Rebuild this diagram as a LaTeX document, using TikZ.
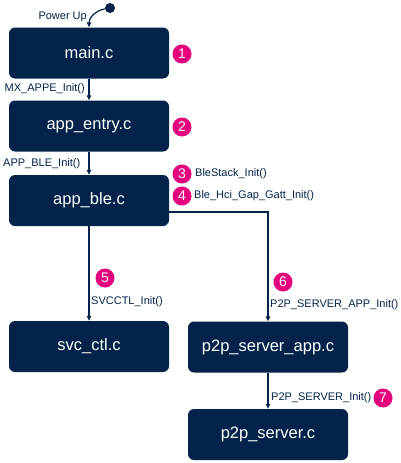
\documentclass[tikz,border=0pt]{standalone}
\usepackage{fontspec}
\setmainfont{Liberation Sans}
\usetikzlibrary{arrows.meta}
\definecolor{stnavy}{HTML}{03234B}
\definecolor{stpink}{HTML}{E6007E}
\tikzset{
  filebox/.style={fill=stnavy, draw=none, rounded corners=6pt, minimum width=160pt, minimum height=51pt, inner sep=0pt, text=white, font=\fontsize{16.5}{18}\selectfont},
  numdot/.style={circle, fill=stpink, draw=none, minimum size=19pt, inner sep=0pt, text=white, font=\fontsize{14}{14}\selectfont},
  lbl/.style={inner sep=0pt, text=stnavy, font=\fontsize{11}{12}\selectfont},
  conn/.style={draw=stnavy, line width=1.2pt, -{Triangle[length=5pt,width=4.5pt]}},
}
\begin{document}
\begin{tikzpicture}[x=1pt,y=-1pt]
\useasboundingbox (0,0) rectangle (400,463);
\node[filebox] (main) at (89,53) {main.c};
\node[filebox] (entry) at (89,126) {app\_entry.c};
\node[filebox] (ble) at (89,200.5) {app\_ble.c};
\node[filebox] (svc) at (89,346.5) {svc\_ctl.c};
\node[filebox] (p2papp) at (268,347) {p2p\_server\_app.c};
\node[filebox] (p2p) at (268,434.5) {p2p\_server.c};

\node[circle, fill=stnavy, minimum size=10pt, inner sep=0pt] (dot) at (110,8) {};
\coordinate (bend) at ([yshift=-11.5pt]ble.east);

\draw[conn] (dot) to[out=190,in=90] (main.north);
\draw[conn] (main) -- (entry);
\draw[conn] (entry) -- (ble);
\draw[conn] (ble) -- (svc);
\draw[conn] (bend) -| (p2papp.north);
\draw[conn] (p2papp) -- (p2p);

\node[lbl, anchor=east] (lpow) at (87,17) {Power Up};
\node[lbl, anchor=east] (lmx) at (85,89) {MX\_APPE\_Init()};
\node[lbl, anchor=west] (lappble) at (3,164) {APP\_BLE\_Init()};
\node[lbl, anchor=west] (lstack) at (195,174) {BleStack\_Init()};
\node[lbl, anchor=west] (lhci) at (194,196) {Ble\_Hci\_Gap\_Gatt\_Init()};
\node[lbl, anchor=west] (lsvc) at (91,302) {SVCCTL\_Init()};
\node[lbl, anchor=west] (lp2papp) at (270,305) {P2P\_SERVER\_APP\_Init()};
\node[lbl, anchor=west] (lp2p) at (271,398) {P2P\_SERVER\_Init()};

\node[numdot] (n1) at (182,54) {1};
\node[numdot] (n2) at (182,127) {2};
\node[numdot] (n3) at (182,174) {3};
\node[numdot] (n4) at (182,196) {4};
\node[numdot] (n5) at (105,278) {5};
\node[numdot] (n6) at (283,282) {6};
\node[numdot] (n7) at (383,398) {7};
\end{tikzpicture}
\end{document}
